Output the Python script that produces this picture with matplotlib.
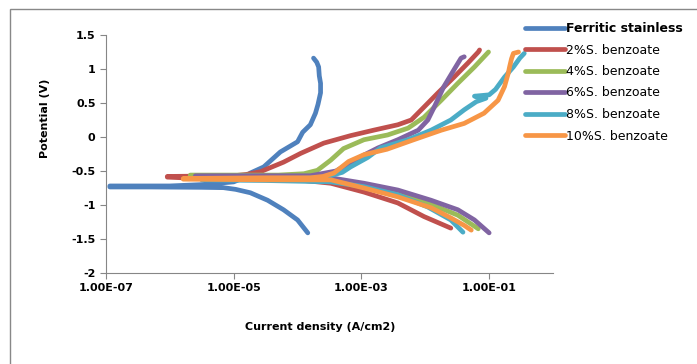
import numpy as np
import matplotlib.pyplot as plt
from matplotlib.patches import Rectangle

# Tafel curves: log10 of current density (A/cm2) and potential (V)
# each series runs from the cathodic end up to Ecorr, then along the anodic branch
ferritic_logi = [-3.84, -4.0, -4.22, -4.47, -4.74, -4.97, -5.16, -5.52, -6.31, -6.94,
                 -6.94, -6.0, -5.5, -5.0, -4.85, -4.74, -4.53, -4.27, -4.0, -3.92,
                 -3.80, -3.72, -3.68, -3.64, -3.64, -3.66, -3.67, -3.70, -3.75]
ferritic_e = [-1.41, -1.22, -1.07, -0.93, -0.82, -0.77, -0.745, -0.74, -0.735, -0.735,
              -0.72, -0.72, -0.70, -0.66, -0.60, -0.53, -0.44, -0.22, -0.07, 0.07,
              0.18, 0.35, 0.48, 0.65, 0.79, 0.90, 1.03, 1.10, 1.16]

sb2_logi = [-1.60, -2.02, -2.43, -2.96, -3.48, -4.0, -5.0, -5.8, -6.04,
            -6.04, -5.5, -5.0, -4.8, -4.58, -4.22, -3.95, -3.59, -3.17, -2.81,
            -2.43, -2.22, -2.02, -1.80, -1.55, -1.33, -1.17, -1.15]
sb2_e = [-1.34, -1.17, -0.97, -0.81, -0.68, -0.63, -0.61, -0.60, -0.59,
         -0.58, -0.575, -0.57, -0.55, -0.51, -0.37, -0.24, -0.09, 0.02, 0.10,
         0.18, 0.25, 0.44, 0.65, 0.88, 1.09, 1.25, 1.28]

sb4_logi = [-1.17, -1.49, -1.91, -2.43, -2.96, -3.5, -4.2, -5.0, -5.68,
            -5.68, -5.0, -4.3, -3.9, -3.69, -3.48, -3.28, -2.96, -2.59, -2.27,
            -2.02, -1.75, -1.49, -1.23, -1.01]
sb4_e = [-1.35, -1.15, -0.99, -0.82, -0.72, -0.65, -0.62, -0.60, -0.58,
         -0.56, -0.56, -0.56, -0.54, -0.49, -0.34, -0.17, -0.04, 0.03, 0.13,
         0.29, 0.54, 0.79, 1.03, 1.25]

sb6_logi = [-1.0, -1.23, -1.49, -1.91, -2.43, -2.96, -3.48, -4.2, -5.6,
            -5.6, -4.5, -3.8, -3.4, -3.17, -2.95, -2.74, -2.43, -2.11, -1.96,
            -1.86, -1.71, -1.55, -1.44, -1.39]
sb6_e = [-1.41, -1.22, -1.07, -0.93, -0.78, -0.68, -0.60, -0.58, -0.58,
         -0.57, -0.57, -0.57, -0.50, -0.38, -0.26, -0.16, -0.04, 0.10, 0.25,
         0.44, 0.74, 0.99, 1.16, 1.18]

sb8_logi = [-1.41, -1.60, -1.96, -2.43, -2.96, -3.48, -4.5, -5.5,
            -5.5, -4.5, -3.6, -3.3, -3.17, -2.9, -2.70, -2.27, -1.91, -1.60,
            -1.39, -1.2, -1.05, -1.23, -1.0, -0.9, -0.76, -0.62, -0.52, -0.45]
sb8_e = [-1.40, -1.22, -1.03, -0.85, -0.73, -0.66, -0.64, -0.63,
         -0.62, -0.62, -0.60, -0.52, -0.44, -0.30, -0.16, -0.04, 0.10, 0.25,
         0.40, 0.52, 0.57, 0.60, 0.62, 0.70, 0.88, 1.03, 1.16, 1.23]

sb10_logi = [-1.28, -1.39, -1.60, -1.91, -2.43, -2.96, -3.48, -4.5, -5.79,
             -5.79, -4.5, -3.8, -3.6, -3.43, -3.2, -2.96, -2.6, -2.18, -1.75,
             -1.39, -1.08, -0.86, -0.76, -0.70, -0.68, -0.65, -0.62, -0.54]
sb10_e = [-1.37, -1.30, -1.19, -1.04, -0.88, -0.75, -0.63, -0.63, -0.62,
          -0.61, -0.60, -0.60, -0.58, -0.53, -0.36, -0.26, -0.18, -0.04, 0.10,
          0.20, 0.35, 0.54, 0.74, 0.94, 1.03, 1.15, 1.23, 1.25]

labels = ['Ferritic stainless', '2%S. benzoate', '4%S. benzoate',
          '6%S. benzoate', '8%S. benzoate', '10%S. benzoate']
colors = ['#4F81BD', '#C0504D', '#9BBB59', '#8064A2', '#4BACC6', '#F79646']

x_ticks = [1e-7, 1e-5, 1e-3, 1e-1]
x_ticklabels = ['1.00E-07', '1.00E-05', '1.00E-03', '1.00E-01']
y_ticks = [-2, -1.5, -1, -0.5, 0, 0.5, 1, 1.5]
y_ticklabels = ['-2', '-1.5', '-1', '-0.5', '0', '0.5', '1', '1.5']

series = [(ferritic_logi, ferritic_e), (sb2_logi, sb2_e), (sb4_logi, sb4_e),
          (sb6_logi, sb6_e), (sb8_logi, sb8_e), (sb10_logi, sb10_e)]

W, H = 697, 364
fig = plt.figure(figsize=(W / 100, H / 100), dpi=100)
ax = fig.add_axes([106 / W, 1 - 273 / H, (553 - 106) / W, (273 - 35) / H])

for (li, e), lab, col in zip(series, labels, colors):
    ax.plot(10 ** np.array(li), e, color=col, lw=3.4, label=lab,
            solid_capstyle='round', solid_joinstyle='round')

ax.set_xscale('log')
ax.set_xlim(1e-7, 1)
ax.set_ylim(-2, 1.5)
ax.set_xticks(x_ticks)
ax.set_xticklabels(x_ticklabels)
ax.xaxis.set_minor_locator(plt.NullLocator())
ax.set_yticks(y_ticks)
ax.set_yticklabels(y_ticklabels)

for s in ['top', 'right']:
    ax.spines[s].set_visible(False)
for s in ['left', 'bottom']:
    ax.spines[s].set_color('#868686')
ax.tick_params(direction='out', length=4, color='#868686', labelsize=8)
for t in ax.get_xticklabels() + ax.get_yticklabels():
    t.set_fontweight('bold')

ax.set_xlabel('Current density (A/cm2)', fontsize=8, fontweight='bold')
ax.set_ylabel('Potential (V)', fontsize=8, fontweight='bold')
ax.xaxis.set_label_coords(0.48, -0.206)
ax.yaxis.set_label_coords(-0.125, 0.65)

leg = fig.legend(loc='upper left', bbox_to_anchor=(525 / W, 1 - 22 / H),
                 frameon=False, fontsize=9, handlelength=3.2, handletextpad=0.1,
                 labelspacing=0.68, borderpad=0, borderaxespad=0)
leg.get_texts()[0].set_fontweight('bold')

# outer chart border
fig.add_artist(Rectangle((10 / W, -0.1), 1.2, 1 - 9 / H + 0.1, transform=fig.transFigure,
                         fill=False, edgecolor='#888888', lw=1))

fig.savefig('out.png', dpi=100)
